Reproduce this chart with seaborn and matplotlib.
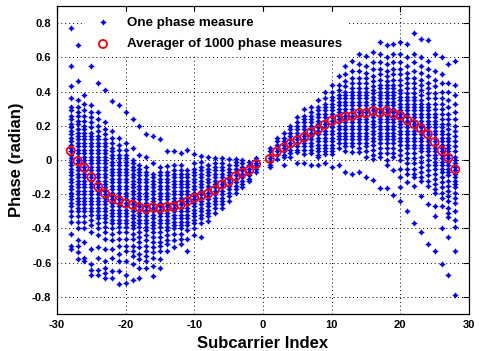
import matplotlib
matplotlib.use("Agg")
import matplotlib.pyplot as plt
import numpy as np
import pandas as pd
import seaborn as sns

# Subcarrier indices (DC carrier 0 is unused)
sub_neg = list(range(-28, 0))
sub_pos = list(range(1, 29))

# Individual phase measures per subcarrier, k = -28 .. -15
phase_neg_outer = [
    [0.77, 0.55, 0.43, 0.36, 0.31, 0.29, 0.26, 0.24, 0.21, 0.19, 0.17, 0.15, 0.13, 0.11, 0.09, 0.07, 0.05, 0.03, 0.01, -0.01, -0.03, -0.05, -0.07, -0.09, -0.11, -0.13, -0.15, -0.17, -0.19, -0.21, -0.23, -0.25, -0.27, -0.30, -0.33, -0.36, -0.43, -0.50, -0.52],
    [0.67, 0.46, 0.35, 0.31, 0.28, 0.26, 0.23, 0.21, 0.18, 0.16, 0.14, 0.12, 0.10, 0.08, 0.06, 0.04, 0.02, 0.00, -0.02, -0.04, -0.06, -0.08, -0.10, -0.12, -0.14, -0.16, -0.18, -0.20, -0.22, -0.24, -0.26, -0.28, -0.30, -0.33, -0.36, -0.40, -0.47, -0.50, -0.54, -0.58],
    [0.38, 0.33, 0.29, 0.26, 0.23, 0.20, 0.18, 0.16, 0.14, 0.12, 0.10, 0.08, 0.06, 0.04, 0.02, 0.00, -0.02, -0.04, -0.06, -0.08, -0.10, -0.12, -0.14, -0.16, -0.18, -0.20, -0.22, -0.24, -0.26, -0.28, -0.30, -0.33, -0.36, -0.40, -0.48, -0.57, -0.59],
    [0.55, 0.32, 0.28, 0.25, 0.22, 0.19, 0.16, 0.14, 0.12, 0.10, 0.08, 0.06, 0.04, 0.02, 0.00, -0.02, -0.04, -0.06, -0.08, -0.10, -0.12, -0.14, -0.16, -0.18, -0.20, -0.22, -0.24, -0.26, -0.28, -0.30, -0.32, -0.35, -0.38, -0.42, -0.52, -0.61, -0.64, -0.67],
    [0.45, 0.28, 0.24, 0.20, 0.17, 0.14, 0.12, 0.10, 0.08, 0.06, 0.04, 0.02, 0.00, -0.02, -0.04, -0.06, -0.08, -0.10, -0.12, -0.14, -0.16, -0.18, -0.20, -0.22, -0.24, -0.26, -0.28, -0.30, -0.32, -0.34, -0.37, -0.40, -0.44, -0.51, -0.57, -0.64, -0.67],
    [0.41, 0.22, 0.18, 0.15, 0.12, 0.10, 0.08, 0.06, 0.04, 0.02, 0.00, -0.02, -0.04, -0.06, -0.08, -0.10, -0.12, -0.14, -0.16, -0.18, -0.20, -0.22, -0.24, -0.26, -0.28, -0.30, -0.32, -0.34, -0.36, -0.39, -0.42, -0.46, -0.52, -0.59, -0.63, -0.66, -0.69],
    [0.345, 0.17, 0.13, 0.10, 0.07, 0.05, 0.03, 0.01, -0.01, -0.03, -0.05, -0.07, -0.09, -0.11, -0.13, -0.15, -0.17, -0.19, -0.21, -0.23, -0.25, -0.27, -0.29, -0.31, -0.33, -0.35, -0.37, -0.40, -0.43, -0.47, -0.52, -0.57, -0.65, -0.69],
    [0.32, 0.13, 0.09, 0.06, 0.03, 0.01, -0.01, -0.03, -0.05, -0.07, -0.09, -0.11, -0.13, -0.15, -0.17, -0.19, -0.21, -0.23, -0.25, -0.27, -0.29, -0.31, -0.33, -0.35, -0.37, -0.39, -0.42, -0.46, -0.50, -0.55, -0.59, -0.65, -0.725],
    [0.28, 0.10, 0.06, 0.03, 0.01, -0.01, -0.03, -0.05, -0.07, -0.09, -0.11, -0.13, -0.15, -0.17, -0.19, -0.21, -0.23, -0.25, -0.27, -0.29, -0.31, -0.33, -0.35, -0.37, -0.39, -0.42, -0.46, -0.50, -0.53, -0.59, -0.67, -0.72],
    [0.24, 0.07, 0.00, -0.02, -0.04, -0.06, -0.08, -0.10, -0.12, -0.14, -0.16, -0.18, -0.20, -0.22, -0.24, -0.26, -0.28, -0.30, -0.32, -0.34, -0.36, -0.38, -0.40, -0.43, -0.46, -0.50, -0.53, -0.56, -0.61, -0.70],
    [0.20, 0.03, -0.03, -0.05, -0.07, -0.09, -0.11, -0.13, -0.15, -0.17, -0.19, -0.21, -0.23, -0.25, -0.27, -0.29, -0.31, -0.33, -0.35, -0.37, -0.39, -0.42, -0.45, -0.48, -0.51, -0.55, -0.58, -0.63, -0.69],
    [0.15, 0.02, -0.04, -0.07, -0.09, -0.11, -0.13, -0.15, -0.17, -0.19, -0.21, -0.23, -0.25, -0.27, -0.29, -0.31, -0.33, -0.35, -0.37, -0.39, -0.41, -0.44, -0.47, -0.50, -0.53, -0.56, -0.59, -0.63],
    [0.14, -0.02, -0.08, -0.10, -0.12, -0.14, -0.16, -0.18, -0.20, -0.22, -0.24, -0.26, -0.28, -0.30, -0.32, -0.34, -0.36, -0.38, -0.40, -0.42, -0.45, -0.48, -0.51, -0.54, -0.57, -0.62, -0.68],
    [0.12, -0.04, -0.07, -0.09, -0.11, -0.13, -0.15, -0.17, -0.19, -0.21, -0.23, -0.25, -0.27, -0.29, -0.31, -0.33, -0.35, -0.37, -0.39, -0.42, -0.45, -0.48, -0.50, -0.53, -0.58, -0.63],
]

# k = -14 .. -1
phase_neg_inner = [
    [0.055, -0.035, -0.07, -0.09, -0.11, -0.13, -0.15, -0.17, -0.19, -0.21, -0.23, -0.25, -0.27, -0.29, -0.31, -0.33, -0.35, -0.37, -0.39, -0.41, -0.44, -0.47, -0.49, -0.53],
    [0.05, -0.03, -0.06, -0.08, -0.10, -0.12, -0.14, -0.16, -0.18, -0.20, -0.22, -0.24, -0.26, -0.28, -0.30, -0.32, -0.34, -0.36, -0.38, -0.40, -0.43, -0.47, -0.51],
    [0.04, -0.03, -0.06, -0.08, -0.10, -0.12, -0.14, -0.16, -0.18, -0.20, -0.22, -0.24, -0.26, -0.28, -0.30, -0.32, -0.34, -0.36, -0.38, -0.40, -0.43, -0.46, -0.49],
    [0.06, -0.06, -0.08, -0.10, -0.12, -0.14, -0.16, -0.18, -0.20, -0.22, -0.24, -0.26, -0.28, -0.30, -0.32, -0.34, -0.36, -0.38, -0.41, -0.46, -0.53],
    [0.035, -0.02, -0.05, -0.07, -0.09, -0.11, -0.13, -0.15, -0.17, -0.19, -0.21, -0.23, -0.25, -0.27, -0.29, -0.31, -0.33, -0.35, -0.37, -0.40, -0.44],
    [0.026, -0.01, -0.04, -0.06, -0.08, -0.10, -0.12, -0.14, -0.16, -0.18, -0.20, -0.22, -0.24, -0.26, -0.28, -0.30, -0.32, -0.34, -0.37, -0.45],
    [0.016, -0.03, -0.05, -0.07, -0.09, -0.11, -0.13, -0.15, -0.17, -0.19, -0.21, -0.23, -0.25, -0.27, -0.29, -0.31, -0.33, -0.355],
    [0.012, -0.02, -0.04, -0.06, -0.08, -0.10, -0.12, -0.14, -0.16, -0.18, -0.20, -0.22, -0.24, -0.26, -0.28, -0.31],
    [0.01, -0.02, -0.04, -0.06, -0.08, -0.10, -0.12, -0.14, -0.16, -0.18, -0.20, -0.22, -0.24, -0.26, -0.28],
    [0.008, -0.03, -0.05, -0.07, -0.09, -0.11, -0.13, -0.15, -0.17, -0.19, -0.21, -0.24],
    [0.005, -0.01, -0.03, -0.05, -0.07, -0.09, -0.11, -0.13, -0.15, -0.17, -0.19],
    [0.0, -0.02, -0.04, -0.06, -0.08, -0.10, -0.12, -0.14, -0.16],
    [-0.01, -0.03, -0.05, -0.07, -0.09, -0.11, -0.12],
    [0.01, 0.0, -0.02, -0.03, -0.05, -0.07],
]

# k = 1 .. 14
phase_pos_inner = [
    [0.07, 0.05, 0.03, 0.01, -0.01, -0.03, -0.04],
    [0.13, 0.11, 0.09, 0.07, 0.05, 0.03, 0.005],
    [0.155, 0.13, 0.11, 0.09, 0.07, 0.05, 0.03, 0.015, -0.03],
    [0.20, 0.18, 0.16, 0.14, 0.12, 0.10, 0.08, 0.06, 0.04, 0.015],
    [0.25, 0.22, 0.20, 0.18, 0.16, 0.14, 0.12, 0.10, 0.08, 0.06, 0.045, -0.02],
    [0.30, 0.26, 0.24, 0.22, 0.20, 0.18, 0.16, 0.14, 0.12, 0.10, 0.08, 0.06, 0.035, -0.015],
    [0.31, 0.28, 0.26, 0.24, 0.22, 0.20, 0.18, 0.16, 0.14, 0.12, 0.10, 0.08, 0.06, 0.04, -0.03],
    [0.35, 0.31, 0.29, 0.27, 0.25, 0.23, 0.21, 0.19, 0.17, 0.15, 0.13, 0.11, 0.09, 0.07, 0.05, 0.03, 0.015, -0.03],
    [0.40, 0.36, 0.33, 0.31, 0.29, 0.27, 0.25, 0.23, 0.21, 0.19, 0.17, 0.15, 0.13, 0.11, 0.09, 0.07, 0.05, 0.035, -0.015],
    [0.44, 0.40, 0.37, 0.35, 0.33, 0.31, 0.29, 0.27, 0.25, 0.23, 0.21, 0.19, 0.17, 0.15, 0.13, 0.11, 0.09, 0.07, 0.05, 0.035, -0.04],
    [0.49, 0.44, 0.41, 0.38, 0.36, 0.34, 0.32, 0.30, 0.28, 0.26, 0.24, 0.22, 0.20, 0.18, 0.16, 0.14, 0.12, 0.10, 0.07, -0.03],
    [0.55, 0.50, 0.46, 0.43, 0.40, 0.38, 0.36, 0.34, 0.32, 0.30, 0.28, 0.26, 0.24, 0.22, 0.20, 0.18, 0.16, 0.14, 0.12, 0.10, 0.08, 0.05, -0.07],
    [0.58, 0.52, 0.48, 0.45, 0.42, 0.40, 0.38, 0.36, 0.34, 0.32, 0.30, 0.28, 0.26, 0.24, 0.22, 0.20, 0.18, 0.16, 0.14, 0.12, 0.10, 0.08, 0.045, -0.08],
    [0.62, 0.56, 0.52, 0.48, 0.45, 0.42, 0.40, 0.38, 0.36, 0.34, 0.32, 0.30, 0.28, 0.26, 0.24, 0.22, 0.20, 0.18, 0.16, 0.14, 0.12, 0.10, 0.07, 0.045, -0.07],
]

# k = 15 .. 28
phase_pos_outer = [
    [0.61, 0.55, 0.51, 0.48, 0.45, 0.42, 0.40, 0.38, 0.36, 0.34, 0.32, 0.30, 0.28, 0.26, 0.24, 0.22, 0.20, 0.18, 0.16, 0.14, 0.12, 0.10, 0.08, 0.05, 0.015, -0.10],
    [0.63, 0.57, 0.53, 0.49, 0.46, 0.43, 0.41, 0.39, 0.37, 0.35, 0.33, 0.31, 0.29, 0.27, 0.25, 0.23, 0.21, 0.19, 0.17, 0.15, 0.13, 0.11, 0.09, 0.06, 0.03, 0.005, -0.115],
    [0.69, 0.62, 0.57, 0.53, 0.50, 0.47, 0.44, 0.42, 0.40, 0.38, 0.36, 0.34, 0.32, 0.30, 0.28, 0.26, 0.24, 0.22, 0.20, 0.18, 0.16, 0.14, 0.12, 0.10, 0.07, 0.04, 0.015, -0.165],
    [0.67, 0.60, 0.56, 0.52, 0.49, 0.46, 0.44, 0.42, 0.40, 0.38, 0.36, 0.34, 0.32, 0.30, 0.28, 0.26, 0.24, 0.22, 0.20, 0.18, 0.16, 0.14, 0.12, 0.10, 0.07, 0.04, 0.0, -0.03, -0.165],
    [0.68, 0.62, 0.57, 0.53, 0.50, 0.47, 0.44, 0.42, 0.40, 0.38, 0.36, 0.34, 0.32, 0.30, 0.28, 0.26, 0.24, 0.22, 0.20, 0.18, 0.16, 0.14, 0.12, 0.10, 0.07, 0.04, 0.015, -0.06, -0.205],
    [0.69, 0.62, 0.57, 0.53, 0.50, 0.47, 0.44, 0.41, 0.39, 0.37, 0.35, 0.33, 0.31, 0.29, 0.27, 0.25, 0.23, 0.21, 0.19, 0.17, 0.15, 0.13, 0.11, 0.09, 0.06, 0.03, 0.0, -0.05, -0.10, -0.16, -0.24],
    [0.68, 0.60, 0.55, 0.51, 0.48, 0.45, 0.42, 0.39, 0.37, 0.35, 0.33, 0.31, 0.29, 0.27, 0.25, 0.23, 0.21, 0.19, 0.17, 0.15, 0.13, 0.11, 0.09, 0.07, 0.04, 0.01, -0.02, -0.05, -0.08, -0.13, -0.30],
    [0.74, 0.62, 0.57, 0.52, 0.48, 0.45, 0.42, 0.39, 0.37, 0.35, 0.33, 0.31, 0.29, 0.27, 0.25, 0.23, 0.21, 0.19, 0.17, 0.15, 0.13, 0.11, 0.09, 0.07, 0.04, 0.01, -0.02, -0.05, -0.08, -0.10, -0.15, -0.37],
    [0.71, 0.60, 0.55, 0.51, 0.47, 0.44, 0.41, 0.38, 0.35, 0.33, 0.31, 0.29, 0.27, 0.25, 0.23, 0.21, 0.19, 0.17, 0.15, 0.13, 0.11, 0.09, 0.07, 0.05, 0.02, -0.01, -0.04, -0.07, -0.10, -0.12, -0.21, -0.42],
    [0.70, 0.58, 0.53, 0.49, 0.45, 0.42, 0.39, 0.36, 0.33, 0.31, 0.29, 0.27, 0.25, 0.23, 0.21, 0.19, 0.17, 0.15, 0.13, 0.11, 0.09, 0.07, 0.05, 0.03, 0.0, -0.03, -0.06, -0.09, -0.12, -0.15, -0.26, -0.49],
    [0.62, 0.52, 0.47, 0.43, 0.39, 0.36, 0.33, 0.30, 0.27, 0.25, 0.23, 0.21, 0.19, 0.17, 0.15, 0.13, 0.11, 0.09, 0.07, 0.05, 0.03, 0.01, -0.01, -0.03, -0.05, -0.08, -0.11, -0.14, -0.17, -0.19, -0.27, -0.33, -0.53],
    [0.60, 0.50, 0.45, 0.40, 0.36, 0.33, 0.30, 0.27, 0.24, 0.21, 0.19, 0.17, 0.15, 0.13, 0.11, 0.09, 0.07, 0.05, 0.03, 0.01, -0.01, -0.03, -0.05, -0.07, -0.10, -0.13, -0.16, -0.19, -0.22, -0.27, -0.40, -0.61],
    [0.56, 0.45, 0.40, 0.35, 0.31, 0.27, 0.24, 0.21, 0.18, 0.15, 0.13, 0.11, 0.09, 0.07, 0.05, 0.03, 0.01, -0.01, -0.03, -0.05, -0.07, -0.09, -0.12, -0.15, -0.18, -0.21, -0.24, -0.28, -0.31, -0.335, -0.45, -0.67],
    [0.58, 0.44, 0.38, 0.33, 0.28, 0.24, 0.20, 0.17, 0.14, 0.11, 0.08, 0.05, 0.02, 0.0, -0.02, -0.04, -0.06, -0.08, -0.10, -0.12, -0.14, -0.16, -0.19, -0.22, -0.25, -0.30, -0.35, -0.39, -0.53, -0.79],
]

# Average of 1000 phase measures per subcarrier
avg_neg = [0.054, -0.006, -0.047, -0.100, -0.156, -0.195, -0.224, -0.236, -0.254, -0.262,
           -0.277, -0.285, -0.277, -0.283, -0.275, -0.273, -0.261, -0.242, -0.222, -0.210,
           -0.197, -0.176, -0.144, -0.127, -0.096, -0.074, -0.061, -0.024]
avg_pos = [0.006, 0.048, 0.072, 0.097, 0.115, 0.132, 0.163, 0.178, 0.206, 0.230,
           0.240, 0.253, 0.257, 0.273, 0.273, 0.286, 0.277, 0.286, 0.269, 0.259,
           0.234, 0.210, 0.185, 0.152, 0.105, 0.056, 0.012, -0.055]

x_ticks = [-30, -20, -10, 0, 10, 20, 30]
y_ticks = [-0.8, -0.6, -0.4, -0.2, 0, 0.2, 0.4, 0.6, 0.8]
label_single = "One phase measure"
label_avg = "Averager of 1000 phase measures"

# ---- assemble tidy frames ----
subcarriers = sub_neg + sub_pos
columns = phase_neg_outer + phase_neg_inner + phase_pos_inner + phase_pos_outer
rows = [(k, v) for k, col in zip(subcarriers, columns) for v in col]
samples = pd.DataFrame(rows, columns=["subcarrier", "phase"])
averages = pd.DataFrame({"subcarrier": subcarriers, "phase": avg_neg + avg_pos})

# ---- styling ----
sns.set_theme(style="white")
plt.rcParams["font.family"] = ["Liberation Sans", "DejaVu Sans"]
plt.rcParams["font.weight"] = "bold"
plt.rcParams["text.color"] = "black"
plt.rcParams["axes.labelcolor"] = "black"
plt.rcParams["xtick.color"] = "black"
plt.rcParams["ytick.color"] = "black"

fig = plt.figure(figsize=(4.79, 3.51), dpi=100)
ax = fig.add_axes([57 / 479, 37 / 351, 412 / 479, 308 / 351])

star4 = (4, 1, 0)
sns.scatterplot(data=samples, x="subcarrier", y="phase", ax=ax,
                marker=star4, s=13, color="#0000ff", linewidth=0.7,
                edgecolor="#0000ff", label=label_single, zorder=3)
sns.scatterplot(data=averages, x="subcarrier", y="phase", ax=ax,
                marker="o", s=34, facecolor="none", edgecolor="#ff0000",
                linewidth=1.3, label=label_avg, zorder=4)

ax.set_xlim(-30, 30)
ax.set_ylim(-0.9, 0.9)
ax.set_xticks(x_ticks)
ax.set_yticks(y_ticks)
ax.set_xticklabels([str(t) for t in x_ticks])
ax.set_yticklabels(["%g" % t for t in y_ticks])

ax.grid(True, color="black", linestyle=(0, (1, 3)), linewidth=0.7)
ax.tick_params(direction="in", length=4, width=0.8, top=True, right=True,
               labelsize=8, colors="black", pad=4)
for lab in ax.get_xticklabels() + ax.get_yticklabels():
    lab.set_fontweight("bold")
    lab.set_color("black")
for side in ax.spines.values():
    side.set_color("black")
    side.set_linewidth(0.9)

ax.set_xlabel("Subcarrier Index", fontsize=12, fontweight="bold", labelpad=5,
              color="black")
ax.set_ylabel("Phase (radian)", fontsize=12, fontweight="bold", labelpad=6,
              color="black")

leg = ax.legend(loc="upper left", bbox_to_anchor=(0.068, 0.982), borderaxespad=0,
                frameon=True, facecolor="white", edgecolor="white", framealpha=1,
                fancybox=False, fontsize=9.6, handletextpad=0.8, borderpad=0.35,
                labelspacing=0.72, markerscale=1.0)
for t in leg.get_texts():
    t.set_fontweight("bold")
    t.set_color("black")
leg.set_zorder(5)

fig.savefig("out.png", dpi=100)
